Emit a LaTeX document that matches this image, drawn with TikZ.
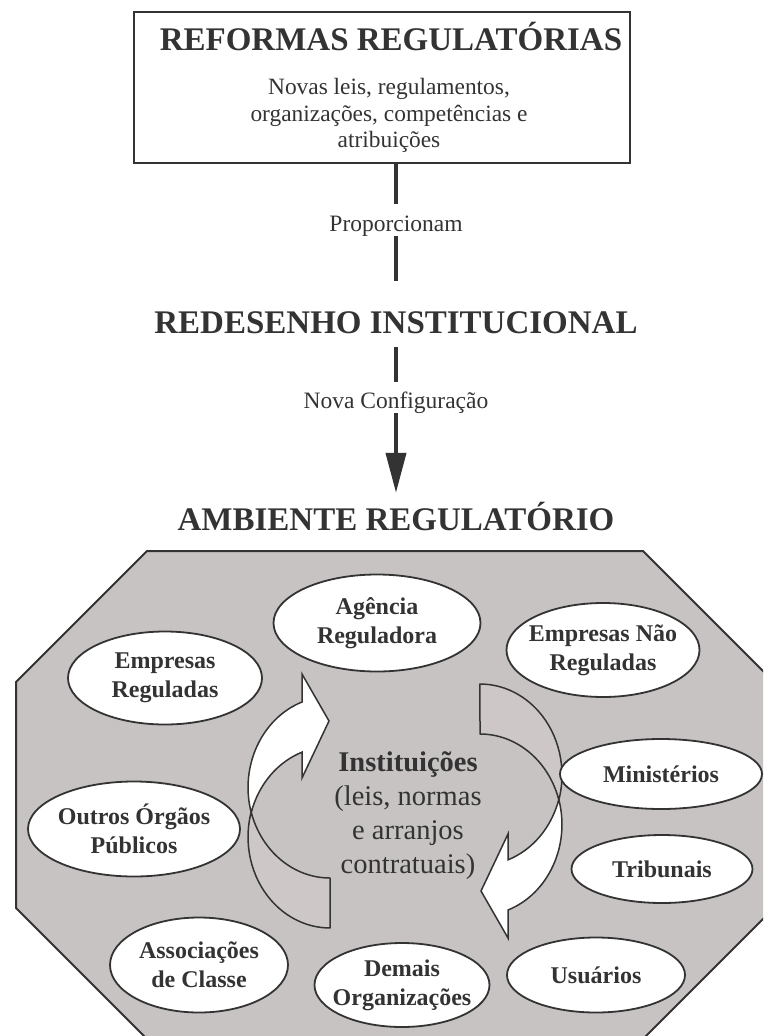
\documentclass[tikz,border=0pt]{standalone}
\usepackage{fontspec}
\setmainfont{Liberation Serif}
\usetikzlibrary{shapes.geometric,arrows.meta}
\definecolor{tinta}{HTML}{333333}
\definecolor{fundo}{RGB}{200,195,195}
\definecolor{cinzaverso}{RGB}{206,199,199}

\newcommand\setacurva{%
  \filldraw[faceverso] (251.2,811.9) arc[start angle=-196, end angle=-90, x radius=82pt, y radius=91pt]
    -- (330,878) arc[start angle=-90, end angle=-164, x radius=82pt, y radius=91pt] -- cycle;
  \filldraw[facefrente] (302,702) arc[start angle=-250, end angle=-164, x radius=82pt, y radius=91pt]
    arc[start angle=-196, end angle=-250, x radius=82pt, y radius=91pt]
    -- (302,778) -- (329,721) -- (302,674) -- cycle;
}

\begin{document}
\begin{tikzpicture}[x=1pt, y=-1pt,
  titulo/.style={font=\fontsize{33}{38}\selectfont\bfseries, text=tinta,
    inner sep=0pt, text height=22pt, text depth=0pt},
  rotulo/.style={font=\fontsize{23.5}{27}\selectfont, text=tinta,
    inner sep=0pt, text height=15.5pt, text depth=5pt},
  corpo/.style={font=\fontsize{23.4}{26.5}\selectfont, text=tinta,
    inner sep=0pt, align=center},
  caixa/.style={draw=tinta, line width=2pt, inner sep=0pt,
    minimum width=496pt, minimum height=151pt},
  elipse/.style={shape=ellipse, draw=tinta, line width=1.8pt, fill=white,
    inner sep=-10pt, align=center, text=tinta,
    font=\fontsize{24}{29}\selectfont\bfseries},
  conector/.style={draw=tinta, line width=4pt},
  faceverso/.style={draw=tinta, fill=cinzaverso, line width=1.5pt, line join=round},
  facefrente/.style={draw=tinta, fill=white, line width=1.5pt, line join=miter}]
  \useasboundingbox (0,0) rectangle (763,1036);
  \clip (0,0) rectangle (763,1036);

  \node[caixa] (reforma) at (382,87.5) {};
  \node[titulo, anchor=base] (reformaT) at (391,50) {REFORMAS REGULATÓRIAS};
  \node[corpo, anchor=north] (reformaD) at (389,78.5)
    {Novas leis, regulamentos,\\organizações, competências e\\atribuições};

  \node[rotulo, anchor=base] (prop) at (396,231) {Proporcionam};
  \node[titulo, anchor=base] (redesenho) at (396,333) {REDESENHO INSTITUCIONAL};
  \node[rotulo, anchor=base] (novacfg) at (396,408) {Nova Configuração};
  \node[titulo, anchor=base] (ambiente) at (396,530) {AMBIENTE REGULATÓRIO};

  \draw[conector, shorten >=11pt] (reforma.south -| prop) -- (prop.north);
  \draw[conector, shorten >=30pt] (prop.south) -- (redesenho.north);
  \draw[conector, shorten <=14pt, shorten >=10pt] (redesenho.south) -- (novacfg.north);
  \draw[conector, -{Triangle[length=40pt,width=20pt]}, shorten >=15pt]
    (novacfg.south) -- (ambiente.north);

  \filldraw[draw=tinta, fill=fundo, line width=2pt]
    (147,551) -- (643,551) -- (774,682) -- (774,908) -- (643,1039)
    -- (147,1039) -- (16,908) -- (16,682) -- cycle;

  \setacurva
  \begin{scope}[rotate around={180:(405,806)}]
    \setacurva
  \end{scope}

  \node[corpo, font=\fontsize{28.5}{34}\selectfont, anchor=north] (instituicoes) at (408,751)
    {\textbf{Instituições}\\(leis, normas\\e arranjos\\contratuais)};

  \node[elipse, minimum width=207pt, minimum height=97pt] (agencia) at (377,623) {Agência\\Reguladora};
  \node[elipse, minimum width=194pt, minimum height=93pt] (empreg) at (165,678) {Empresas\\Reguladas};
  \node[elipse, minimum width=193pt, minimum height=94pt] (empnreg) at (603,650) {Empresas Não\\Reguladas};
  \node[elipse, minimum width=202pt, minimum height=70pt] (ministerios) at (661,774) {Ministérios};
  \node[elipse, minimum width=181pt, minimum height=68pt] (tribunais) at (662,869) {Tribunais};
  \node[elipse, minimum width=178pt, minimum height=75pt] (usuarios) at (596,975) {Usuários};
  \node[elipse, minimum width=175pt, minimum height=84pt] (demais) at (402,985) {Demais\\Organizações};
  \node[elipse, minimum width=178pt, minimum height=95pt] (associacoes) at (199,965) {Associações\\de Classe};
  \node[elipse, minimum width=212pt, minimum height=95pt] (outros) at (134,829) {Outros Órgãos\\Públicos};
\end{tikzpicture}
\end{document}
